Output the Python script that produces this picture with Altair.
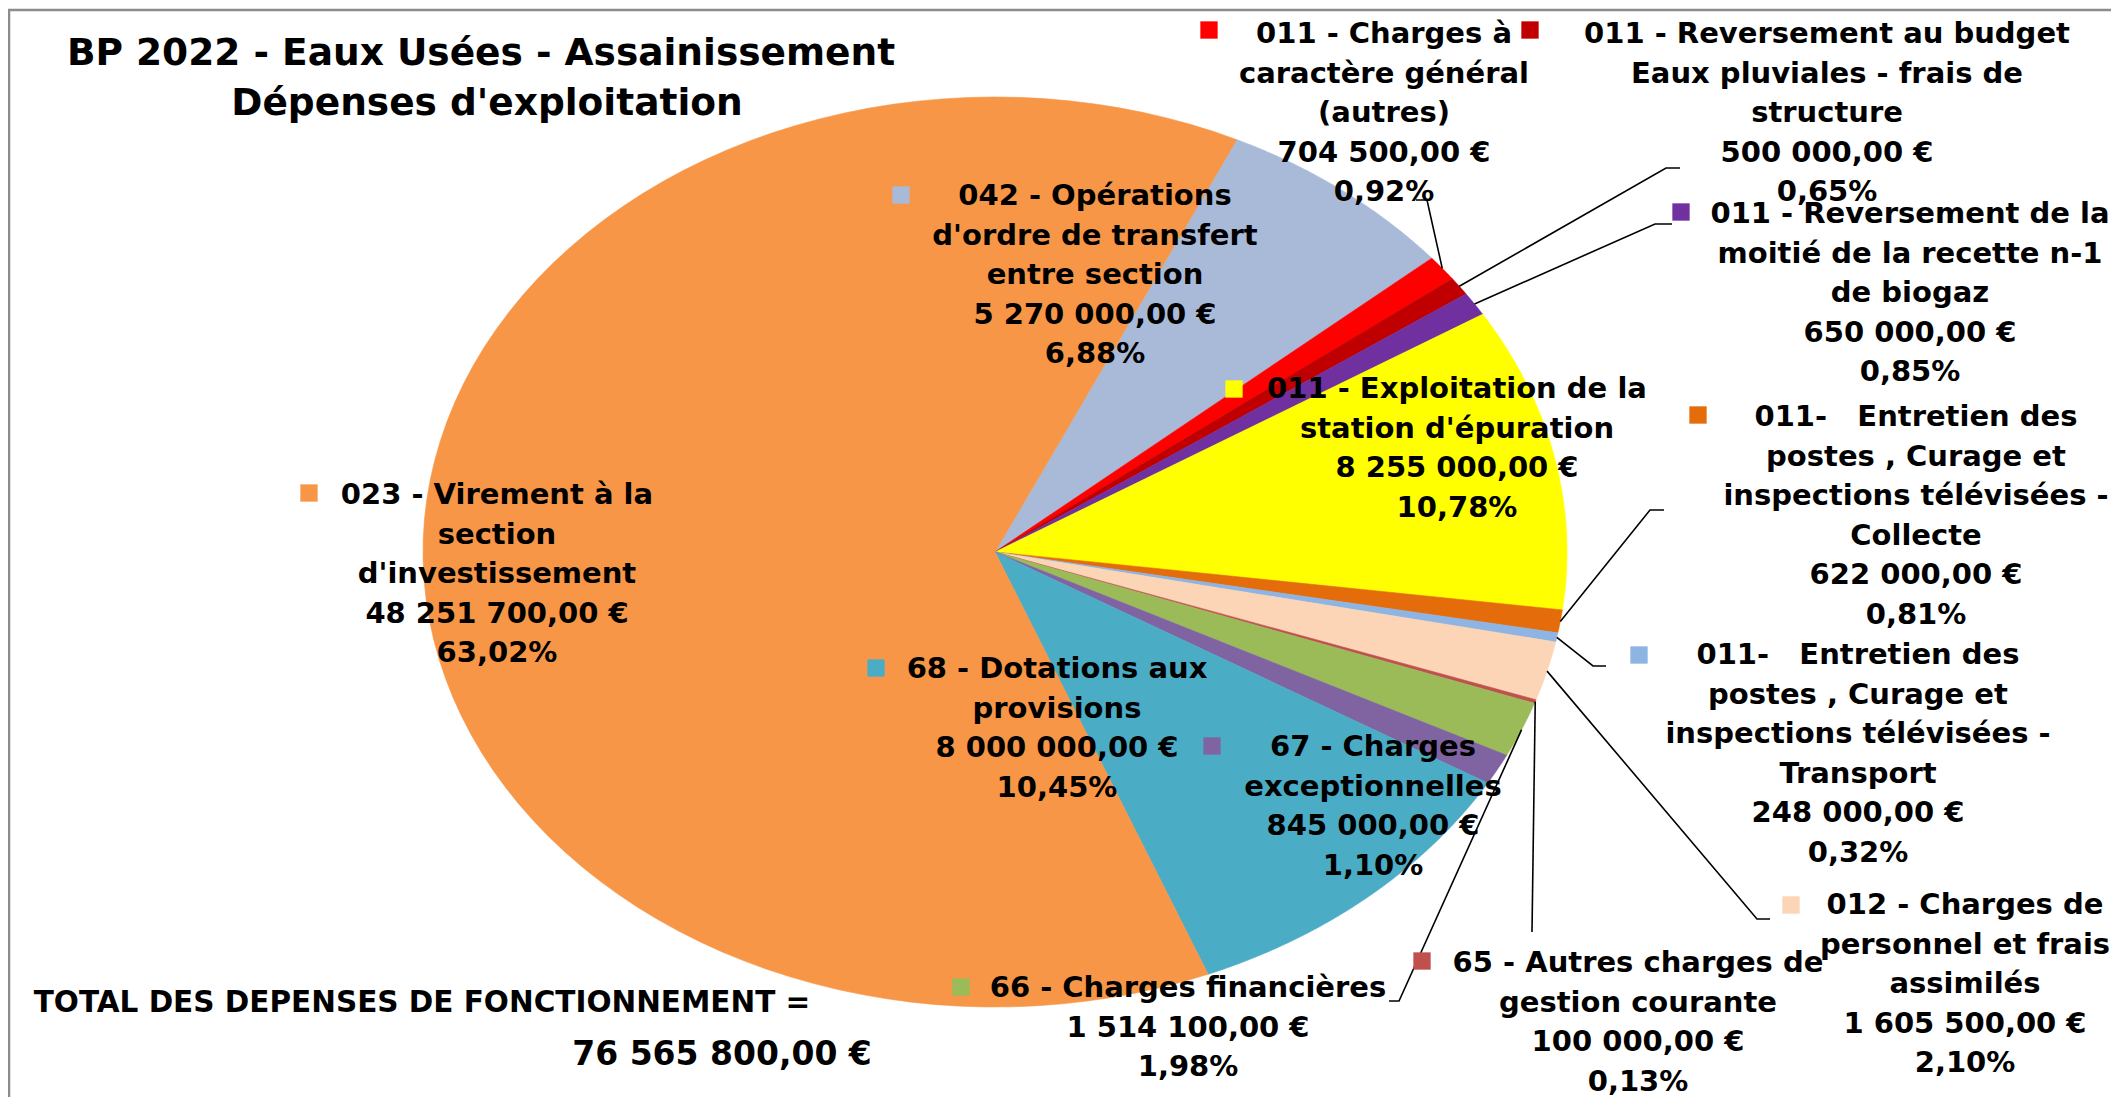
import math
import altair as alt
import pandas as pd

# ---------------- data ----------------
categories = [
    "042 - Opérations d'ordre de transfert entre section",
    "011 - Charges à caractère général (autres)",
    "011 - Reversement au budget Eaux pluviales - frais de structure",
    "011 - Reversement de la moitié de la recette n-1 de biogaz",
    "011 - Exploitation de la station d'épuration",
    "011- Entretien des postes , Curage et inspections télévisées - Collecte",
    "011- Entretien des postes , Curage et inspections télévisées - Transport",
    "012 - Charges de personnel et frais assimilés",
    "65 - Autres charges de gestion courante",
    "66 - Charges financières",
    "67 - Charges exceptionnelles",
    "68 - Dotations aux provisions",
    "023 - Virement à la section d'investissement",
]
values = [5270000, 704500, 500000, 650000, 8255000, 622000, 248000,
          1605500, 100000, 1514100, 845000, 8000000, 48251700]
colors = ["#A9BAD8", "#FF0000", "#C00000", "#7030A0", "#FFFF00", "#E46C0A",
          "#8DB4E2", "#FBD5B5", "#C0504D", "#9BBB59", "#8064A2", "#4BACC6",
          "#F79646"]
label_lines = [
    ["042 - Opérations", "d'ordre de transfert", "entre section"],
    ["011 - Charges à", "caractère général", "(autres)"],
    ["011 - Reversement au budget", "Eaux pluviales - frais de", "structure"],
    ["011 - Reversement de la", "moitié de la recette n-1", "de biogaz"],
    ["011 - Exploitation de la", "station d'épuration"],
    ["011-\u00a0\u00a0 Entretien des", "postes , Curage et", "inspections télévisées -", "Collecte"],
    ["011-\u00a0\u00a0 Entretien des", "postes , Curage et", "inspections télévisées -", "Transport"],
    ["012 - Charges de", "personnel et frais", "assimilés"],
    ["65 - Autres charges de", "gestion courante"],
    ["66 - Charges financières"],
    ["67 - Charges", "exceptionnelles"],
    ["68 - Dotations aux", "provisions"],
    ["023 - Virement à la", "section", "d'investissement"],
]
title_lines = ["BP 2022 - Eaux Usées - Assainissement", "Dépenses d'exploitation"]
total_label = "TOTAL DES DEPENSES DE FONCTIONNEMENT ="

# ---------------- layout (page pixels) ----------------
W, H = 2103, 1089
CX, CY, RX, RY = 995, 552, 572, 455
START_DEG = 25
LINE_STEP = 39.5
FONT = "DejaVu Sans"
label_pos = [(1095, 196), (1384, 34), (1827, 34), (1910, 214), (1457, 389),
             (1916, 417), (1858, 655), (1965, 905), (1638, 963), (1188, 988),
             (1373, 747), (1057, 669), (497, 495)]
marker_pos = [(901, 195), (1209, 30), (1530, 30), (1681, 212), (1234, 389),
              (1698, 415), (1639, 655), (1791, 905), (1422, 961), (961, 987),
              (1212, 746), (876, 668), (309, 493)]
leader_pts = {1: [(1427, 200), (1416, 200)], 2: [(1666, 168), (1680, 168)],
              3: [(1655, 224), (1672, 224)], 5: [(1650, 510), (1664, 510)],
              6: [(1593, 666), (1606, 666)], 7: [(1757, 919), (1770, 919)],
              8: [(1532, 932)], 9: [(1399, 1001), (1389, 1001)]}


def U(px):
    return (px - CX) / RX


def V(py):
    return (CY - py) / RY


def euro(v):
    s = f"{v:,.2f}".replace(",", " ").replace(".", ",")
    return s + " €"


total = sum(values)
pcts = [f"{v / total * 100:.2f}".replace(".", ",") + "%" for v in values]

xs = alt.Scale(domain=[U(8), U(8 + W)], nice=False, zero=False)
ys = alt.Scale(domain=[V(8 + H), V(8)], nice=False, zero=False)
fill_scale = alt.Scale(domain=categories, range=colors)

# ---------------- slices ----------------
N = 90
start_rad = math.radians(START_DEG)
df_slices = pd.DataFrame({"cat": categories, "value": values,
                          "order": list(range(len(values)))})

slices = alt.Chart(df_slices).transform_joinaggregate(
    total="sum(value)"
).transform_window(
    cum="sum(value)", sort=[alt.SortField("order")], frame=[None, 0]
).transform_calculate(
    f0="(datum.cum - datum.value) / datum.total",
    f1="datum.cum / datum.total",
    step=f"sequence(0, {N + 3})",
).transform_flatten(["step"]).transform_calculate(
    ang=f"{start_rad} + 2 * PI * (datum.f0 + (datum.f1 - datum.f0) * clamp(datum.step - 1, 0, {N}) / {N})",
    edge=f"(datum.step == 0 || datum.step == {N + 2}) ? 0 : 1",
).transform_calculate(
    u="datum.edge * sin(datum.ang)",
    v="datum.edge * cos(datum.ang)",
).mark_line(strokeWidth=0.6, strokeJoin="round").encode(
    x=alt.X("u:Q", scale=xs, axis=None),
    y=alt.Y("v:Q", scale=ys, axis=None),
    detail="cat:N",
    order=alt.Order("step:Q"),
    fill=alt.Fill("cat:N", scale=fill_scale, legend=None),
    stroke=alt.Stroke("cat:N", scale=fill_scale, legend=None),
)

# ---------------- leader lines ----------------
cum = 0
mids = []
for v in values:
    mids.append((cum + v / 2) / total)
    cum += v
rows = []
for idx, pts in leader_pts.items():
    a = start_rad + 2 * math.pi * mids[idx]
    rows.append({"id": idx, "k": 0, "u": math.sin(a), "v": math.cos(a)})
    for k, (px, py) in enumerate(pts, start=1):
        rows.append({"id": idx, "k": k, "u": U(px), "v": V(py)})
df_leaders = pd.DataFrame(rows)
leaders = alt.Chart(df_leaders).mark_line(color="black", strokeWidth=1.6).encode(
    x=alt.X("u:Q", scale=xs, axis=None),
    y=alt.Y("v:Q", scale=ys, axis=None),
    detail="id:N",
    order=alt.Order("k:Q"),
)

# ---------------- markers ----------------
df_markers = pd.DataFrame({"cat": categories,
                           "u": [U(p[0]) for p in marker_pos],
                           "v": [V(p[1]) for p in marker_pos]})
markers = alt.Chart(df_markers).mark_square(size=300, opacity=1).encode(
    x=alt.X("u:Q", scale=xs, axis=None),
    y=alt.Y("v:Q", scale=ys, axis=None),
    color=alt.Color("cat:N", scale=fill_scale, legend=None),
)

# ---------------- data labels ----------------
trows = []
for i, lines in enumerate(label_lines):
    full = lines + [euro(values[i]), pcts[i]]
    x0, y0 = label_pos[i]
    for j, t in enumerate(full):
        trows.append({"u": U(x0), "v": V(y0 + j * LINE_STEP), "t": t})
df_text = pd.DataFrame(trows)
labels = alt.Chart(df_text).mark_text(
    font=FONT, fontWeight="bold", fontSize=29, align="center",
    baseline="middle", color="black"
).encode(
    x=alt.X("u:Q", scale=xs, axis=None),
    y=alt.Y("v:Q", scale=ys, axis=None),
    text="t:N",
)

# ---------------- title & total ----------------
df_title = pd.DataFrame({"u": [U(481), U(487)], "v": [V(54), V(104)],
                         "t": title_lines})
title = alt.Chart(df_title).mark_text(
    font=FONT, fontWeight="bold", fontSize=37.5, align="center",
    baseline="middle", color="black"
).encode(
    x=alt.X("u:Q", scale=xs, axis=None),
    y=alt.Y("v:Q", scale=ys, axis=None),
    text="t:N",
)
df_total = pd.DataFrame({"u": [U(422), U(722)], "v": [V(1003), V(1055)],
                         "t": [total_label, euro(total)], "s": [29.5, 33]})
total_text = alt.Chart(df_total).mark_text(
    font=FONT, fontWeight="bold", align="center", baseline="middle",
    color="black"
).encode(
    x=alt.X("u:Q", scale=xs, axis=None),
    y=alt.Y("v:Q", scale=ys, axis=None),
    text="t:N",
    size=alt.Size("s:Q", scale=None, legend=None),
)

# ---------------- frame lines ----------------
frame_top = alt.Chart(pd.DataFrame({"a": [0]})).mark_rule(
    color="#8C8C8C", strokeWidth=2.5
).encode(x=alt.value(0), x2=alt.value(W), y=alt.value(2))
frame_left = alt.Chart(pd.DataFrame({"a": [0]})).mark_rule(
    color="#8C8C8C", strokeWidth=2.5
).encode(x=alt.value(1), y=alt.value(1), y2=alt.value(H))

chart = alt.layer(
    slices, leaders, frame_top, frame_left, markers, labels, title, total_text
).properties(
    width=W, height=H, padding=0,
    autosize=alt.AutoSizeParams(type="none"),
    background="white",
).configure_view(strokeWidth=0)

chart.save("out.html", embed_options={"renderer": "svg", "actions": False})
